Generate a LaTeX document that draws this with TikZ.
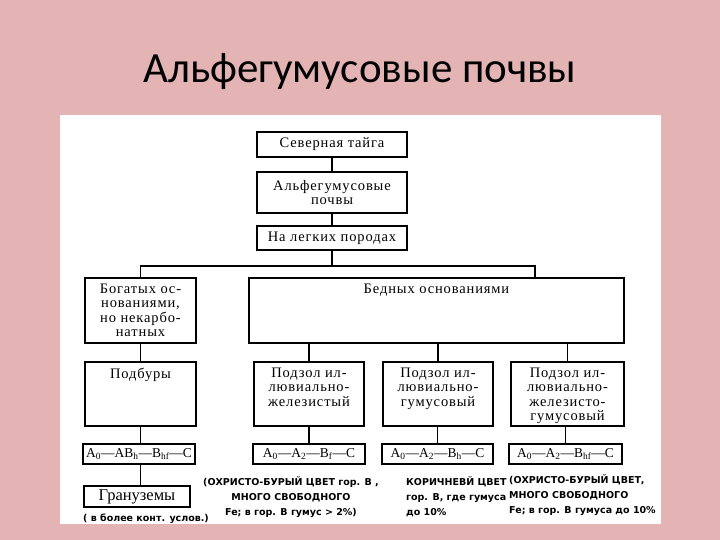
\documentclass[tikz,border=0pt]{standalone}
\usepackage{fontspec}
\setmainfont{Liberation Serif}
\newfontfamily\titlefont{Carlito}
\newfontfamily\boxfont[LetterSpace=6]{Liberation Serif}
\newfontfamily\notefont{DejaVu Sans}
\definecolor{slidepink}{RGB}{228,180,180}
\begin{document}
\begin{tikzpicture}[x=1pt,y=-1pt,
  boxtext/.style={font=\boxfont\fontsize{14.5}{14.5}\selectfont},
  box/.style={draw,line width=1.4pt,inner sep=2pt,align=center,boxtext},
  toptext/.style={label={[anchor=north,align=center,boxtext,yshift=-3pt]north:{#1}}},
  formula/.style={box,minimum height=20pt,inner sep=1pt,font=\fontsize{13.5}{14}\selectfont},
  note/.style={font=\notefont\bfseries\fontsize{9.5}{15}\selectfont,inner sep=0pt},
  link/.style={line width=1.4pt}]
  \useasboundingbox[fill=slidepink] (0,0) rectangle (720,540);
  \fill[white] (60,115) rectangle (661,524);
  \node[font=\titlefont\fontsize{43}{46}\selectfont] (title) at (360,72) {Альфегумусовые почвы};
  \node[box,minimum width=150pt,minimum height=25pt] (taiga) at (332,144.5) {Северная тайга};
  \node[box,minimum width=150pt,minimum height=41pt] (alfe) at (332,192.5) {Альфегумусовые\\почвы};
  \node[box,minimum width=150pt,minimum height=24pt] (legk) at (332,238) {На легких породах};
  \node[box,minimum width=111pt,minimum height=65pt] (bog) at (140.5,310.5) {Богатых ос-\\нованиями,\\но некарбо-\\натных};
  \node[box,minimum width=375pt,minimum height=65pt,toptext={Бедных основаниями}] (bed) at (436.5,310.5) {};
  \node[box,minimum width=111pt,minimum height=64pt,toptext={Подбуры}] (podb) at (140.5,394) {};
  \node[box,minimum width=110pt,minimum height=64pt,toptext={Подзол ил-\\лювиально-\\железистый}] (pz1) at (309,394) {};
  \node[box,minimum width=110pt,minimum height=64pt,toptext={Подзол ил-\\лювиально-\\гумусовый}] (pz2) at (438,394) {};
  \node[box,minimum width=113pt,minimum height=64pt,toptext={Подзол ил-\\лювиально-\\железисто-\\гумусовый}] (pz3) at (567.5,394) {};
  \node[formula,minimum width=112pt] (f1) at (139,454) {A\textsubscript{0}—AB\textsubscript{h}—B\textsubscript{hf}—C};
  \node[formula,minimum width=112pt] (f2) at (309,454) {A\textsubscript{0}—A\textsubscript{2}—B\textsubscript{f}—C};
  \node[formula,minimum width=111pt] (f3) at (437.5,454) {A\textsubscript{0}—A\textsubscript{2}—B\textsubscript{h}—C};
  \node[formula,minimum width=113pt] (f4) at (565.5,454) {A\textsubscript{0}—A\textsubscript{2}—B\textsubscript{hf}—C};
  \node[box,minimum width=106pt,minimum height=21pt,font=\fontsize{16.5}{16.5}\selectfont] (gran) at (137,496.5) {Грануземы};
  \node[note,anchor=west] (cont) at (83,519) {( в более конт. услов.)};
  \node[note,align=center] (note1) at (291,497) {(ОХРИСТО-БУРЫЙ ЦВЕТ гор. В ,\\МНОГО СВОБОДНОГО\\Fe; в гор. В гумус > 2\%)};
  \node[note,align=left,anchor=north west] (note2) at (406,476) {КОРИЧНЕВЙ ЦВЕТ\\гор. В, где гумуса\\до 10\%};
  \node[note,align=left,anchor=north west] (note3) at (509,474) {(ОХРИСТО-БУРЫЙ ЦВЕТ,\\МНОГО СВОБОДНОГО\\Fe; в гор. В гумуса до 10\%};
  \coordinate (split) at (332,266);
  \coordinate (bedin) at (535,278);
  \draw[link] (taiga) -- (alfe);
  \draw[link] (alfe) -- (legk);
  \draw[link] (legk.south) -- (split);
  \draw[link] (bog.north) |- (split) -| (bedin);
  \draw[link] (bog) -- (podb);
  \draw[link] (podb.south) -- (podb.south |- f1.north);
  \draw[link] (gran.north -| podb.south) -- (f1.south -| podb.south);
  \draw[link] (pz1.north) -- (pz1.north |- bed.south);
  \draw[link] (pz2.north) -- (pz2.north |- bed.south);
  \draw[link] (pz3.north) -- (pz3.north |- bed.south);
  \draw[link] (f2.north) -- (f2.north |- pz1.south);
  \draw[link] (f3.north) -- (f3.north |- pz2.south);
  \draw[link] (f4.north) -- (f4.north |- pz3.south);
\end{tikzpicture}
\end{document}
